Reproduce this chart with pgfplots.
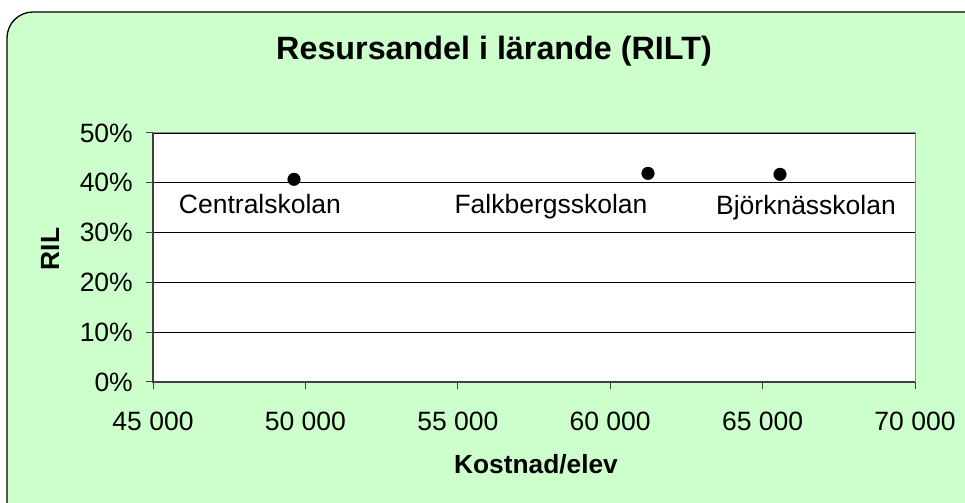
\documentclass[border=0pt]{standalone}
\usepackage{pgfplots}
\pgfplotsset{compat=1.18}
\usepackage{fontspec}
\setmainfont{Liberation Sans}
\definecolor{bggreen}{HTML}{CCFFCC}
\definecolor{framegray}{HTML}{8C8C8C}
\definecolor{axdark}{HTML}{404040}
\begin{document}
\begin{tikzpicture}
\useasboundingbox (0,0) rectangle (965bp,503bp);
\begin{scope}
\clip (0,0) rectangle (965bp,503bp);
\draw[line width=1.3bp, fill=bggreen, rounded corners=26bp] (7bp,-60bp) rectangle (1020bp,491bp);
\end{scope}
\begin{axis}[
  at={(153bp,121bp)}, anchor=south west,
  scale only axis, width=762bp, height=249bp,
  xmin=45000, xmax=70000, ymin=0, ymax=50,
  scaled x ticks=false, scaled y ticks=false,
  xtick={45000,50000,55000,60000,65000,70000},
  xticklabels={45 000,50 000,55 000,60 000,65 000,70 000},
  ytick={0,10,20,30,40,50},
  yticklabels={0\%,10\%,20\%,30\%,40\%,50\%},
  xtick pos=left, ytick pos=left,
  tick align=outside, major tick length=7bp,
  tick style={draw=axdark, line width=1bp},
  ymajorgrids, grid style={draw=black, line width=0.9bp},
  axis line style={draw=framegray, line width=1bp},
  axis background/.style={fill=white},
  ticklabel style={font=\fontsize{26.5bp}{30bp}\selectfont},
  xticklabel style={anchor=north, inner sep=0pt, yshift=-23bp},
  yticklabel style={anchor=east, inner sep=0pt, xshift=-13bp},
  clip=false,
]
\addplot[only marks, mark=*, mark size=6.3bp, mark options={fill=black, draw=black}] coordinates {
  (49626,40.7) (61240,41.9) (65571,41.7)
};
\draw[axdark, line width=1.6bp] (rel axis cs:0,1) -- (rel axis cs:0,0) -- (rel axis cs:1,0);
\node[anchor=base, font=\fontsize{26.5bp}{30bp}\selectfont] at (axis cs:48510,33.9) {Centralskolan};
\node[anchor=base, font=\fontsize{26.5bp}{30bp}\selectfont] at (axis cs:58058,33.9) {Falkbergsskolan};
\node[anchor=base, font=\fontsize{26.5bp}{30bp}\selectfont] at (axis cs:66424,33.7) {Björknässkolan};
\end{axis}
\node[anchor=base, font=\bfseries\fontsize{32.3bp}{36bp}\selectfont] at (494bp,443bp) {Resursandel i lärande (RILT)};
\node[anchor=base, font=\bfseries\fontsize{26.3bp}{30bp}\selectfont] at (536bp,30bp) {Kostnad/elev};
\node[rotate=90, font=\bfseries\fontsize{26.3bp}{30bp}\selectfont] at (50bp,254bp) {RIL};
\end{tikzpicture}
\end{document}
